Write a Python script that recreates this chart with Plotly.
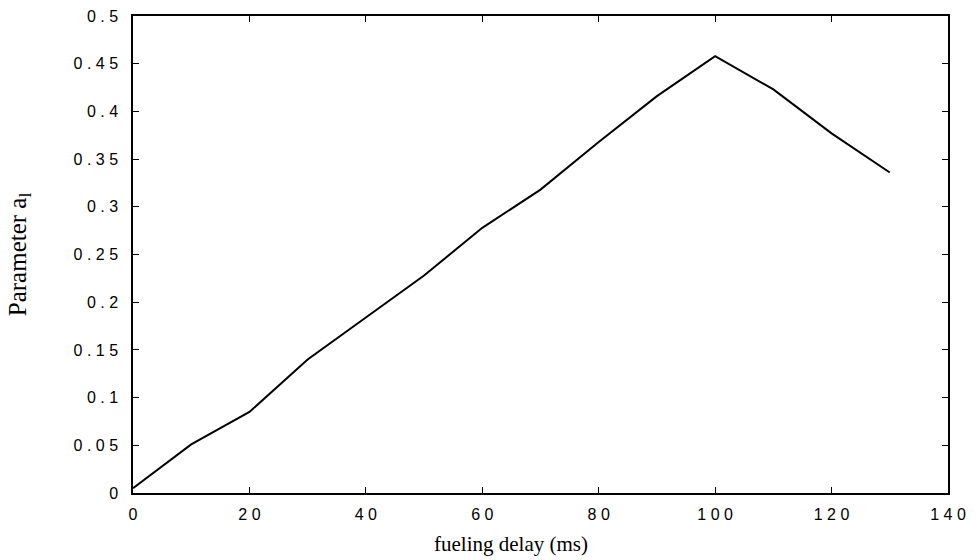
import plotly.graph_objects as go

delay_ms = [0, 10, 20, 30, 40, 50, 60, 70, 80, 90, 100, 110, 120, 130]
param_a1 = [0.005, 0.051, 0.085, 0.140, 0.184, 0.228, 0.278, 0.318, 0.368, 0.416, 0.458, 0.423, 0.377, 0.336]

x_ticks = [0, 20, 40, 60, 80, 100, 120, 140]
x_tick_text = ["0", "2 0", "4 0", "6 0", "8 0", "1 0 0", "1 2 0", "1 4 0"]
y_ticks = [0, 0.05, 0.1, 0.15, 0.2, 0.25, 0.3, 0.35, 0.4, 0.45, 0.5]
y_tick_text = ["0", "0 . 0 5", "0 . 1", "0 . 1 5", "0 . 2", "0 . 2 5", "0 . 3",
               "0 . 3 5", "0 . 4", "0 . 4 5", "0 . 5"]

fig = go.Figure()
fig.add_trace(go.Scatter(x=delay_ms, y=param_a1, mode="lines",
                         line=dict(color="black", width=2), showlegend=False))

axis_common = dict(showline=True, linecolor="black", linewidth=1.5, mirror="ticks",
                   ticks="inside", ticklen=6, tickcolor="black", tickwidth=1.2,
                   showgrid=False, zeroline=False, automargin=False,
                   tickfont=dict(family="Liberation Sans, Arial", size=16, color="black"))

fig.update_layout(
    width=979, height=560,
    margin=dict(l=133, r=31, t=16, b=67),
    paper_bgcolor="white", plot_bgcolor="white",
    xaxis=dict(range=[0, 140], tickvals=x_ticks, ticktext=x_tick_text,
               ticklabelstandoff=6, **axis_common),
    yaxis=dict(range=[0, 0.5], tickvals=y_ticks, ticktext=y_tick_text,
               ticklabelstandoff=10, **axis_common),
    annotations=[
        dict(text="fueling delay (ms)", xref="paper", yref="paper", x=0.464, y=-0.107,
             xanchor="center", yanchor="middle", showarrow=False,
             font=dict(family="Liberation Serif, Times New Roman", size=21, color="black")),
        dict(text="Parameter a<sub>l</sub>", xref="paper", yref="paper", x=-0.139, y=0.5,
             xanchor="center", yanchor="middle", textangle=-90, showarrow=False,
             font=dict(family="Liberation Serif, Times New Roman", size=25, color="black")),
    ],
)

fig.write_html("out.html", config={"displayModeBar": False},
               post_script="document.body.style.margin='0';")
